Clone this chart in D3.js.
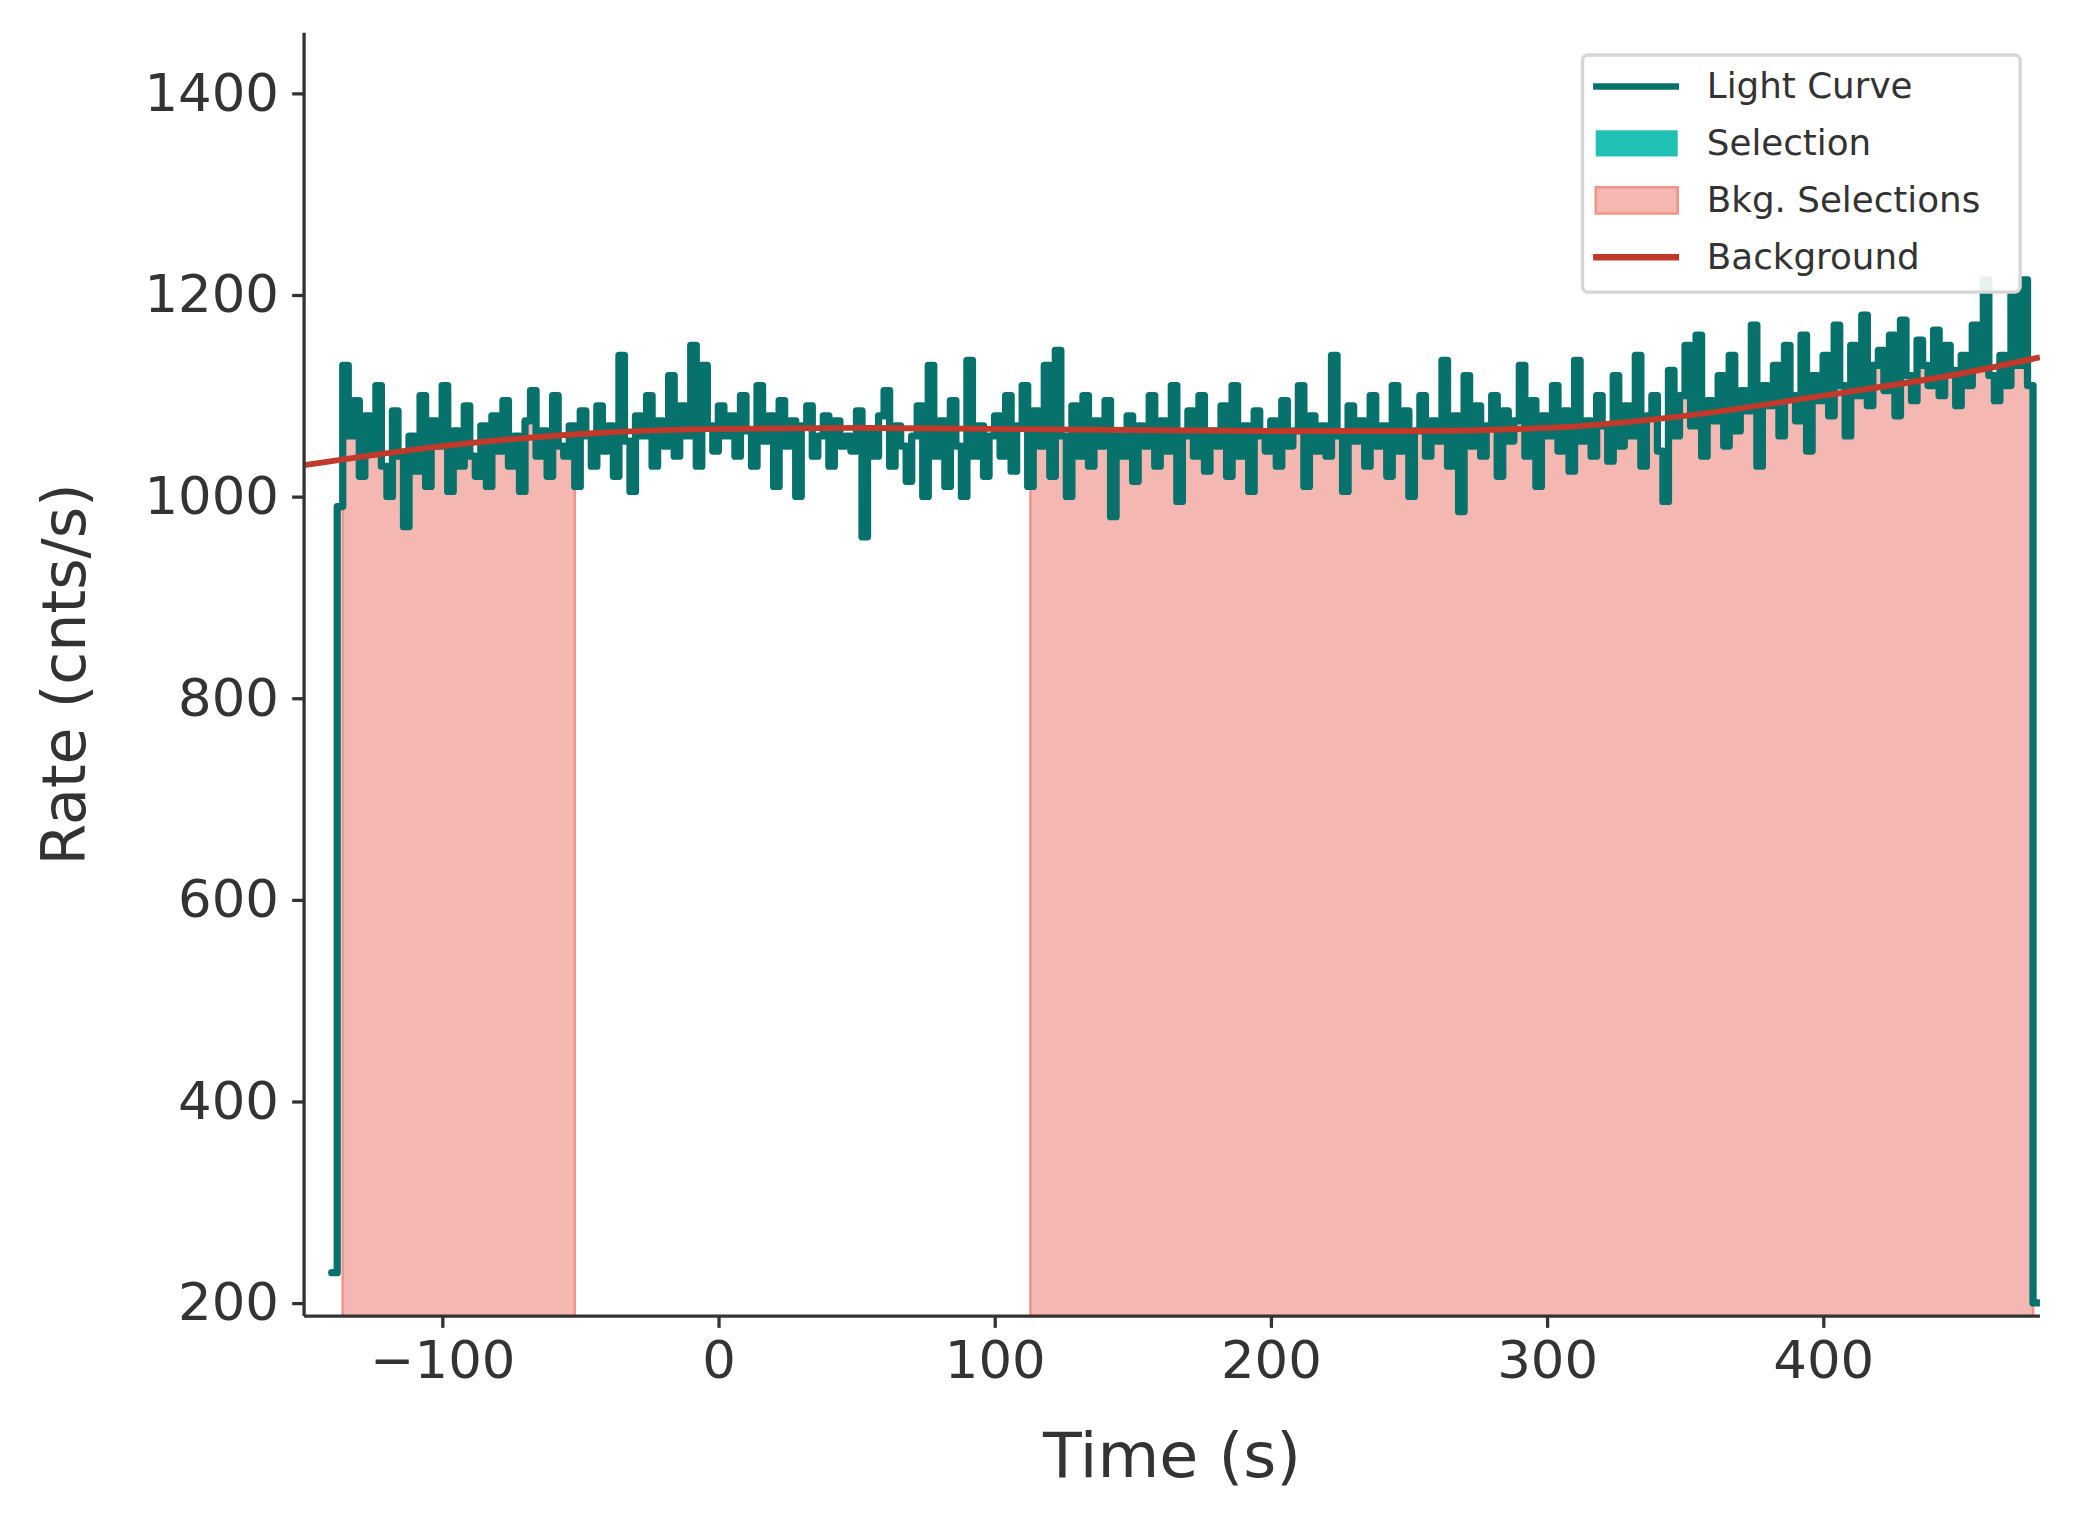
<!DOCTYPE html>
<html><head><meta charset="utf-8">
<script src="https://cdn.jsdelivr.net/npm/d3@7"></script>
<style>body{margin:0;background:#fff}svg{display:block}text{font-family:"DejaVu Sans",sans-serif;fill:#333}</style>
</head><body><svg id="c" width="2073" height="1540" viewBox="0 0 1568 1176" preserveAspectRatio="none"></svg>
<script>
const binStart = -140, binWidth = 2;
const rates = [
230,990,1130,1060,1095,1020,1080,1045,1110,1030,
1000,1085,1040,970,1060,1025,1100,1010,1075,1050,
1110,1005,1065,1030,1090,1040,1020,1070,1010,1080,
1045,1095,1030,1060,1005,1075,1105,1040,1065,1020,
1100,1050,1040,1070,1010,1085,1060,1030,1090,1045,
1070,1020,1140,1055,1005,1080,1060,1100,1030,1075,
1050,1120,1040,1090,1060,1150,1030,1130,1070,1045,
1090,1060,1080,1040,1100,1065,1030,1110,1055,1080,
1010,1095,1050,1075,1000,1070,1090,1040,1060,1080,
1030,1075,1050,1060,1045,1085,960,1065,1040,1080,
1105,1030,1070,1050,1015,1060,1090,1000,1130,1040,
1075,1010,1095,1050,1000,1135,1040,1070,1020,1060,
1080,1040,1100,1025,1070,1110,1010,1085,1050,1130,
1020,1145,1060,1000,1090,1040,1100,1030,1075,1050,
1095,980,1060,1040,1080,1015,1070,1050,1100,1030,
1075,1045,1110,995,1060,1085,1040,1100,1025,1065,
1050,1090,1020,1110,1040,1070,1005,1085,1060,1045,
1075,1030,1095,1050,1065,1110,1010,1080,1045,1070,
1040,1140,1060,1005,1090,1055,1075,1030,1100,1050,
1070,1020,1110,1045,1085,1000,1065,1100,1040,1075,
1055,1135,1030,1080,985,1120,1050,1090,1040,1070,
1100,1020,1085,1055,1075,1130,1040,1095,1010,1080,
1060,1110,1045,1085,1025,1135,1055,1075,1040,1100,
1070,1035,1120,1050,1090,1060,1140,1030,1080,1100,
1045,995,1125,1060,1100,1150,1070,1160,1040,1095,
1075,1120,1050,1140,1065,1105,1085,1170,1030,1110,
1090,1130,1060,1150,1100,1075,1160,1045,1120,1095,
1140,1080,1170,1110,1060,1150,1100,1180,1090,1130,
1145,1105,1160,1080,1175,1120,1095,1155,1130,1110,
1165,1100,1150,1125,1090,1140,1110,1170,1130,1215,
1120,1095,1140,1110,1200,1130,1215,1110,200];
const bkgIntervals = [[-136,-52],[113,476]];
const bkgT = [-150,-100,-50,0,50,100,150,200,250,300,350,400,450,478.5];
const bkgV = [1031,1050,1062,1067,1068,1067,1066,1065,1065,1068,1080,1100,1122,1138];
const xTicks = [-100,0,100,200,300,400];
const yTicks = [200,400,600,800,1000,1200,1400];

const svg = d3.select('#c');
const L=230,R=1543,T=25,B=1005;
const x = d3.scaleLinear().domain([-150,478.5]).range([L,R]);
const y = d3.scaleLinear().domain([187,1460]).range([B,T]);
const pts = rates.map((v,i)=>({t:binStart+i*binWidth, v}));
pts.push({t:binStart+rates.length*binWidth, v:rates[rates.length-1]});

const defs = svg.append('defs');
const cp = defs.append('clipPath').attr('id','bk');
bkgIntervals.forEach(([a,b])=>cp.append('rect').attr('x',x(a)).attr('width',x(b)-x(a)).attr('y',T).attr('height',B-T));
defs.append('clipPath').attr('id','plot').append('rect').attr('x',L).attr('y',T).attr('width',R-L).attr('height',B-T);

const area = d3.area().curve(d3.curveStepAfter).x(d=>x(d.t)).y0(B).y1(d=>y(d.v));
svg.append('path').datum(pts).attr('d',area).attr('fill','#f5b7b1').attr('clip-path','url(#bk)');
bkgIntervals.forEach(([a,b])=>[a,b].forEach(t=>{
  const i = Math.floor((t-binStart)/binWidth);
  svg.append('line').attr('x1',x(t)).attr('x2',x(t)).attr('y1',B).attr('y2',y(rates[Math.min(i,rates.length-1)]))
    .attr('stroke','#f1948a').attr('stroke-width',2);
}));

const g = svg.append('g').attr('clip-path','url(#plot)');
g.append('path').datum(pts).attr('d',d3.line().curve(d3.curveStepAfter).x(d=>x(d.t)).y(d=>y(d.v)))
  .attr('fill','none').attr('stroke','#07726b').attr('stroke-width',5.5).attr('stroke-linejoin','round').attr('stroke-linecap','round');
g.append('path').datum(bkgT.map((t,i)=>({t,v:bkgV[i]})))
  .attr('d',d3.line().curve(d3.curveMonotoneX).x(d=>x(d.t)).y(d=>y(d.v)))
  .attr('fill','none').attr('stroke','#c0392b').attr('stroke-width',4.5);

const xa = svg.append('g').attr('transform',`translate(0,${B})`).call(d3.axisBottom(x).tickValues(xTicks).tickSize(9).tickPadding(10).tickFormat(d=>d<0?'\u2212'+(-d):d));
const ya = svg.append('g').attr('transform',`translate(${L},0)`).call(d3.axisLeft(y).tickValues(yTicks).tickSize(9).tickPadding(10).tickFormat(d=>String(d)));
[xa,ya].forEach(a=>{a.selectAll('path,line').attr('stroke','#333').attr('stroke-width',2.5);a.selectAll('text').style('font-size','40px').attr('fill','#333');});
xa.select('.domain').attr('d',`M${L},0H${R}`);
ya.select('.domain').attr('d',`M0,${B}V${T}`);
svg.append('text').attr('x',(L+R)/2).attr('y',1128).attr('text-anchor','middle').style('font-size','48px').text('Time (s)');
svg.append('text').attr('transform',`translate(64,${(T+B)/2}) rotate(-90)`).attr('text-anchor','middle').style('font-size','46px').text('Rate (cnts/s)');

const lg = svg.append('g');
lg.append('rect').attr('x',1197).attr('y',42).attr('width',331).attr('height',181).attr('rx',4).attr('fill','#fff').attr('fill-opacity',0.9).attr('stroke','#d6d6d6').attr('stroke-width',2.5);
const items=[['Light Curve','line','#07726b'],['Selection','rect','#20c0b5'],['Bkg. Selections','rect2','#f5b7b1'],['Background','line','#c0392b']];
items.forEach(([lab,k,c],i)=>{
  const cy=66+i*43.5;
  if(k==='line') lg.append('line').attr('x1',1205).attr('x2',1270).attr('y1',cy).attr('y2',cy).attr('stroke',c).attr('stroke-width',5);
  else lg.append('rect').attr('x',1207).attr('y',cy-10).attr('width',62).attr('height',20).attr('fill',c).attr('stroke',k==='rect2'?'#f1948a':'none').attr('stroke-width',2);
  lg.append('text').attr('x',1291).attr('y',cy+9).style('font-size','27px').attr('fill','#111').text(lab);
});
</script></body></html>
